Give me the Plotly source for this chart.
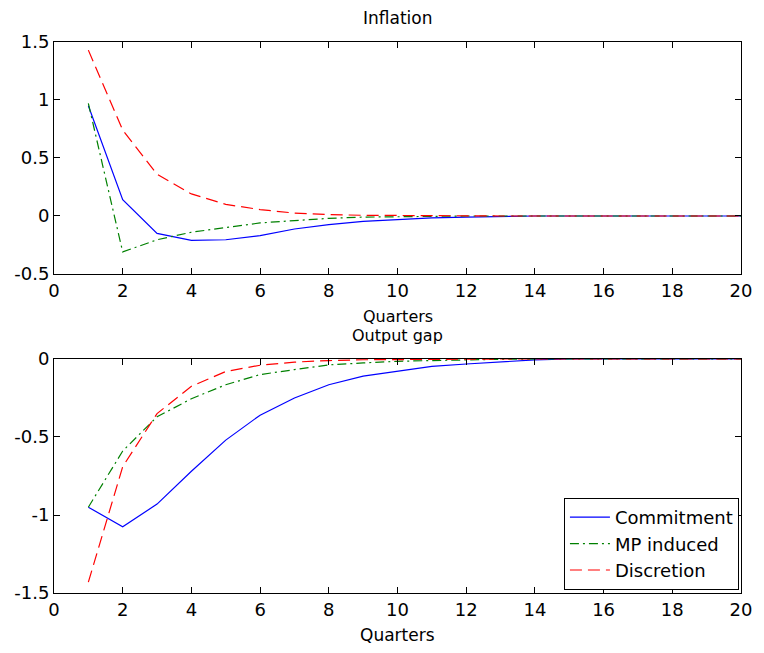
import plotly.graph_objects as go
from plotly.subplots import make_subplots

quarters = list(range(1, 21))

# Inflation panel
infl_commitment = [0.95, 0.14, -0.15, -0.21, -0.205, -0.17, -0.112, -0.075, -0.046, -0.03,
                   -0.017, -0.01, -0.004, 0, 0, 0, 0, 0, 0, 0]
infl_mp = [0.97, -0.31, -0.205, -0.14, -0.1, -0.06, -0.04, -0.02, -0.01, -0.005,
           -0.003, 0, 0, 0, 0, 0, 0, 0, 0, 0]
infl_discretion = [1.43, 0.74, 0.36, 0.19, 0.1, 0.055, 0.025, 0.012, 0.006, 0.003,
                   0.002, 0.001, 0, 0, 0, 0, 0, 0, 0, 0]

# Output gap panel
gap_commitment = [-0.95, -1.075, -0.93, -0.72, -0.52, -0.36, -0.25, -0.165, -0.11, -0.078,
                  -0.047, -0.032, -0.02, -0.006, 0, 0, 0, 0, 0, 0]
gap_mp = [-0.95, -0.59, -0.37, -0.255, -0.165, -0.1, -0.068, -0.038, -0.025, -0.015,
          -0.01, -0.005, -0.002, 0, 0, 0, 0, 0, 0, 0]
gap_discretion = [-1.43, -0.69, -0.35, -0.175, -0.08, -0.04, -0.02, -0.01, -0.005, -0.003,
                  -0.001, 0, 0, 0, 0, 0, 0, 0, 0, 0]

series_names = ["Commitment", "MP induced", "Discretion"]
colors = ["#0000ff", "#008000", "#ff0000"]
dashes = ["solid", "9px,4px,2px,4px", "12px,6px"]

FONT = "DejaVu Sans"

fig = make_subplots(rows=2, cols=1)

top = [infl_commitment, infl_mp, infl_discretion]
bot = [gap_commitment, gap_mp, gap_discretion]
for i in range(3):
    fig.add_trace(go.Scatter(x=quarters, y=top[i], mode="lines", name=series_names[i],
                             line=dict(color=colors[i], width=1.2, dash=dashes[i]),
                             showlegend=False), row=1, col=1)
for i in range(3):
    fig.add_trace(go.Scatter(x=quarters, y=bot[i], mode="lines", name=series_names[i],
                             line=dict(color=colors[i], width=1.2, dash=dashes[i]),
                             showlegend=True), row=2, col=1)

axis_common = dict(showline=True, linecolor="black", linewidth=1, mirror="allticks",
                   ticks="inside", ticklen=6, tickcolor="black", showgrid=False,
                   zeroline=False, tickfont=dict(family=FONT, size=18, color="black"))

x_ticks = list(range(0, 21, 2))
fig.update_xaxes(range=[0, 20], tickvals=x_ticks, ticktext=[str(v) for v in x_ticks],
                 **axis_common)

top_ticks = [-0.5, 0, 0.5, 1, 1.5]
bot_ticks = [-1.5, -1, -0.5, 0]
fig.update_yaxes(range=[-0.5, 1.5], tickvals=top_ticks,
                 ticktext=["-0.5", "0", "0.5", "1", "1.5"], row=1, col=1, **axis_common)
fig.update_yaxes(range=[-1.5, 0], tickvals=bot_ticks,
                 ticktext=["-1.5", "-1", "-0.5", "0"], row=2, col=1, **axis_common)

fig.update_layout(
    width=764, height=653,
    margin=dict(l=54, r=13, t=42, b=60),
    paper_bgcolor="white", plot_bgcolor="white",
    font=dict(family=FONT, size=17, color="black"),
    yaxis=dict(domain=[0.579, 1.0]),
    yaxis2=dict(domain=[0.0, 0.4247]),
    legend=dict(x=0.997, y=0.1724, xanchor="right", yanchor="top",
                bgcolor="white", bordercolor="black", borderwidth=1,
                font=dict(family=FONT, size=18, color="black"),
                tracegroupgap=0, itemwidth=40),
    annotations=[
        dict(text="Inflation", x=0.5, y=1.0436, xref="paper", yref="paper",
             showarrow=False, xanchor="center", yanchor="middle", font=dict(size=17)),
        dict(text="Quarters", x=0.5, y=0.5025, xref="paper", yref="paper",
             showarrow=False, xanchor="center", yanchor="middle", font=dict(size=16)),
        dict(text="Output gap", x=0.5, y=0.4682, xref="paper", yref="paper",
             showarrow=False, xanchor="center", yanchor="middle", font=dict(size=16)),
        dict(text="Quarters", x=0.5, y=-0.0762, xref="paper", yref="paper",
             showarrow=False, xanchor="center", yanchor="middle", font=dict(size=17)),
    ],
)

fig.write_html("out.html")
